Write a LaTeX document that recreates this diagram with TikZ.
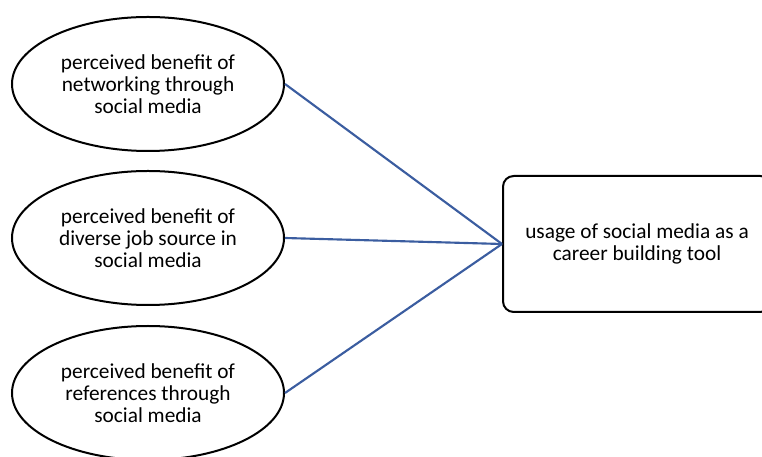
\documentclass[tikz,border=0pt]{standalone}
\usepackage{fontspec}
\setmainfont{Carlito}
\usepackage{xcolor}
\usepackage{tikz}
\usetikzlibrary{positioning,shapes.geometric}

\definecolor{linkblue}{RGB}{59,93,160}

\begin{document}
\begin{tikzpicture}[x=0.75pt, y=0.75pt,
        factor/.style={ellipse, draw, line width=1.5pt, minimum width=272*0.75pt,
            minimum height=134*0.75pt, inner sep=0pt, align=center,
            font=\fontsize{16pt}{16.5pt}\selectfont},
        outcome/.style={draw, line width=1.5pt, rounded corners=8pt, minimum width=268*0.75pt,
            minimum height=136*0.75pt, inner sep=0pt, align=center,
            font=\fontsize{16pt}{16.5pt}\selectfont},
        link/.style={draw=linkblue, line width=1.6pt}]
        \useasboundingbox (0,0) rectangle (762,456);

        \node[factor] (N) at (148,372) {perceived benefit of\\networking through\\social media};
        \node[factor] (J) at (148,218) {perceived benefit of\\diverse job source in\\social media};
        \node[factor] (R) at (148,63) {perceived benefit of\\references through\\social media};
        \node[outcome] (U) at (637,212) {usage of social media as a\\career building tool};

        \path (N.east) edge [link] (U.west)
              (J.east) edge [link] (U.west)
              (R.east) edge [link] (U.west);
    \end{tikzpicture}
\end{document}
